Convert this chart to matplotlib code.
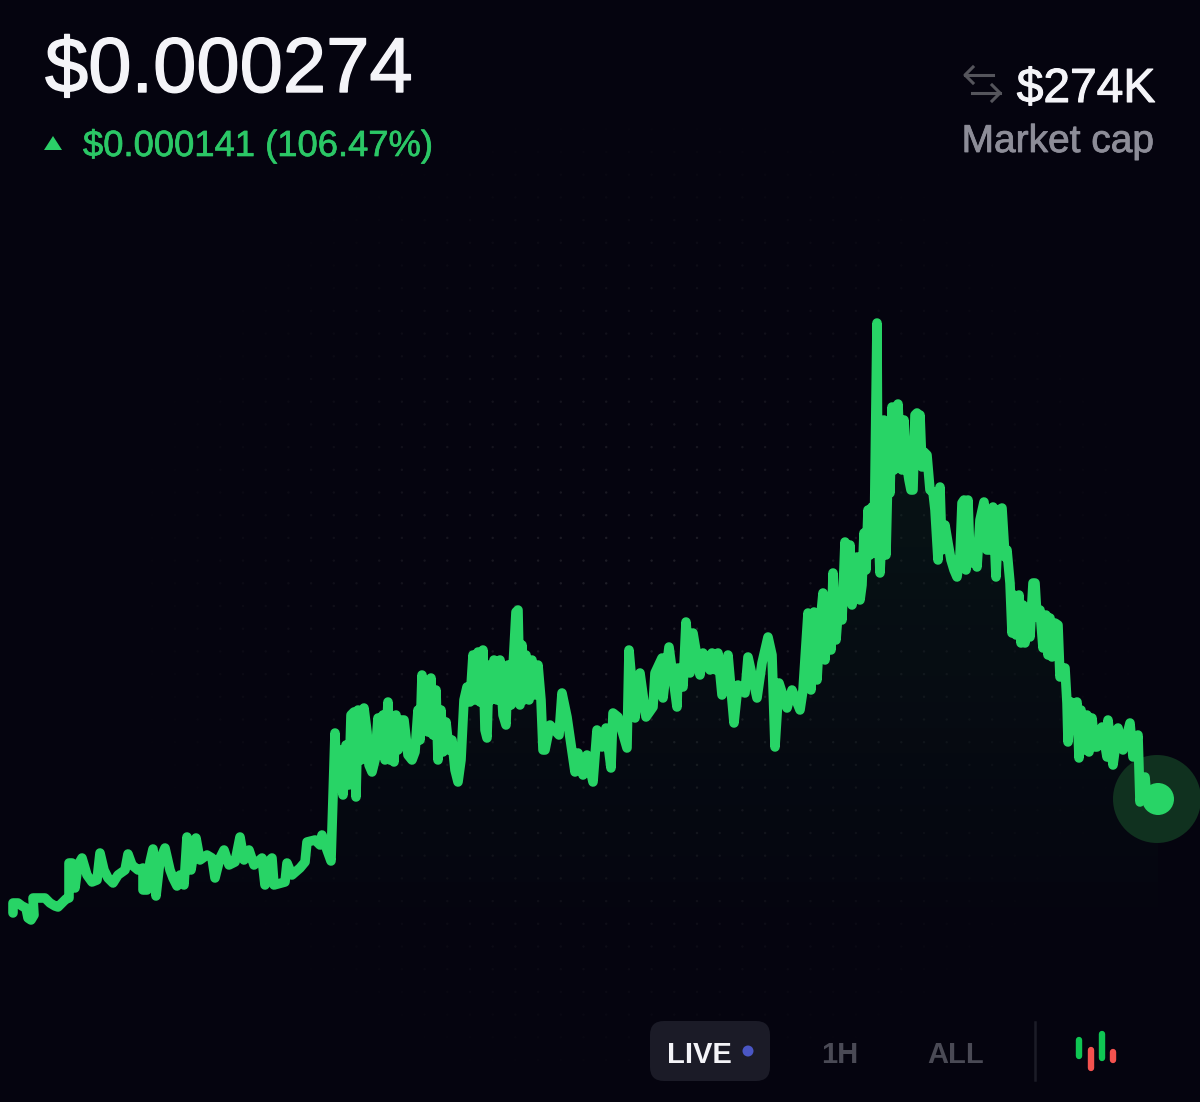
import numpy as np
import matplotlib.pyplot as plt
import matplotlib.patheffects as pe
from matplotlib.patches import Circle, FancyBboxPatch, Polygon

# serie (temps en unites arbitraires, niveau du prix au dessus de la base)
times = [
    13, 13, 18, 22, 26, 28, 31, 34, 33, 38,
    45, 50, 55, 58, 62, 66, 69, 69, 72, 75,
    78, 82, 87, 92, 97, 100, 104, 108, 113, 118,
    125, 128, 132, 138, 143, 143, 147, 150, 153, 156,
    160, 165, 170, 173, 177, 180, 184, 187, 191, 196,
    200, 207, 212, 215, 220, 224, 229, 235, 240, 244,
    249, 254, 262, 265, 270, 272, 274, 285, 287, 292,
    300, 305, 307, 315, 320, 322, 327, 331,
    335, 337, 340, 343, 346, 349, 351, 354, 356, 358,
    361, 364, 367, 369, 372, 375, 378, 380, 383, 385,
    388, 390, 392, 394, 396, 398,
    400, 404, 408, 412, 415, 418, 420, 422, 424, 426,
    428, 431, 433, 436, 438, 441, 443, 446, 449, 452,
    455, 458, 461, 464, 467, 470,
    473, 475, 478, 480, 483, 485, 487, 489, 491, 494,
    497, 500, 503, 506, 508, 511, 514, 516, 518, 520,
    522, 524, 526, 529, 532, 535, 538, 541, 543, 545,
    550, 559, 562, 567, 575, 578, 583, 587,
    593, 597, 602, 606, 611, 613, 618, 627, 629, 635,
    640, 646, 653, 655, 662, 663, 669, 677, 678, 683,
    686, 690, 693, 700, 703, 710, 712, 716, 718, 722,
    728, 734, 738, 745, 748, 757, 762, 768, 772, 775,
    779, 787, 792, 800, 803,
    808, 811, 814, 817, 820, 823, 825, 828, 831, 833,
    836, 839, 842, 845, 847, 850, 852, 854, 857, 860,
    862, 864, 866, 868, 870, 872, 874, 877, 878, 880,
    882, 884, 886, 888, 890, 892, 894, 896, 898, 900,
    902, 904, 906, 909, 911, 913, 915, 917, 919, 920,
    922, 924, 927, 930, 933, 935, 938, 940, 942, 945,
    948, 951, 954, 957, 960, 962, 964, 966, 968, 970,
    972, 975, 977, 980, 984, 987, 990, 993, 996, 999,
    1002, 1005, 1007,
    1010, 1012, 1014, 1016, 1019, 1021, 1023, 1025, 1027, 1030,
    1033, 1035, 1037, 1040, 1043, 1046, 1048, 1050, 1052, 1055,
    1058, 1060, 1063, 1065, 1067, 1068, 1071, 1074, 1077, 1079,
    1081, 1084, 1087, 1089, 1092, 1095, 1097, 1102, 1107, 1108,
    1113, 1118, 1123, 1130, 1133, 1138, 1140, 1145, 1147, 1158,
]
levels = [
    87, 97, 97, 94, 92, 82, 80, 85, 102, 102,
    102, 97, 94, 93, 97, 101, 102, 137, 137, 112,
    135, 142, 125, 118, 120, 147, 130, 122, 117, 125,
    130, 146, 135, 130, 132, 110, 110, 138, 151, 104,
    140, 152, 130, 122, 114, 125, 115, 163, 130, 162,
    140, 145, 142, 122, 142, 150, 135, 138, 163, 140,
    150, 135, 142, 115, 140, 142, 115, 118, 137, 125,
    132, 138, 158, 160, 155, 165, 150, 139,
    267, 212, 250, 205, 255, 215, 285, 288, 203, 290,
    240, 292, 268, 235, 228, 240, 282, 245, 285, 240,
    298, 240, 280, 238, 285, 250,
    280, 280, 245, 240, 248, 290, 260, 325, 272, 300,
    268, 322, 265, 310, 240, 290, 248, 278, 250, 260,
    230, 218, 240, 300, 313, 298,
    345, 300, 348, 298, 350, 270, 262, 335, 300, 340,
    300, 340, 285, 275, 335, 295, 350, 388, 390, 295,
    355, 300, 345, 300, 340, 305, 335, 300, 250, 250,
    275, 265, 307, 283, 228, 247, 225, 245,
    218, 270, 253, 272, 232, 287, 283, 252, 350, 282,
    327, 283, 293, 327, 342, 302, 353, 293, 332, 313,
    378, 327, 367, 325, 347, 330, 347, 330, 347, 305,
    345, 277, 315, 307, 343, 302, 337, 363, 345, 253,
    317, 292, 310, 290, 310,
    387, 310, 388, 320, 375, 407, 340, 395, 350, 427,
    360, 400, 380, 458, 400, 455, 395, 410, 443, 400,
    415, 467, 430, 490, 445, 493, 447, 677, 480, 427,
    470, 580, 445, 530, 507, 593, 530, 550, 596, 550,
    530, 580, 540, 520, 510, 510, 585, 587, 535, 585,
    533, 548, 545, 510, 508, 490, 440, 513, 450, 475,
    457, 440, 430, 423, 445, 497, 500, 430, 500, 440,
    437, 450, 433, 480, 498, 450, 450, 493, 423, 490,
    492, 443, 450,
    417, 367, 405, 365, 405, 357, 395, 357, 392, 363,
    417, 417, 383, 390, 352, 385, 345, 382, 343, 377,
    375, 323, 332, 332, 297, 258, 298, 290, 298, 242,
    290, 250, 285, 248, 282, 253, 253, 273, 243, 280,
    235, 272, 250, 277, 243, 265, 198, 223, 200, 201,
]

price = "$0.000274"
change = "$0.000141 (106.47%)"
market_cap = "$274K"
market_cap_label = "Market cap"
ranges = ["1H", "ALL"]

BG = "#05040f"
GREEN = "#28d466"

fig = plt.figure(figsize=(12, 11.02), dpi=100, facecolor=BG)
plt.rcParams['font.family'] = ['Liberation Sans', 'DejaVu Sans']

# axe du graphique
ax = fig.add_axes([0, 0, 1, 1], facecolor=BG)
ax.axis("off")

# grille de points tres discrete
gx, gy = np.meshgrid(np.arange(16, 1200, 22.7), np.arange(-60, 900, 22.7))
fade = np.clip(1.05 - np.hypot((gx - 640) / 500, (gy - 400) / 480), 0, 1)
grid_col = np.zeros((gx.size, 4))
grid_col[:, :3] = 0.55
grid_col[:, 3] = 0.2 * fade.ravel()
ax.scatter(gx.ravel(), gy.ravel(), s=3, c=grid_col, linewidths=0, zorder=1)

# remplissage sous la courbe
grad = np.zeros((256, 2, 4))
grad[:, :, :3] = (0.15, 0.84, 0.40)
grad[:, :, 3] = np.linspace(0.085, 0, 256)[:, None]
im = ax.imshow(grad, extent=[0, 1200, 40, 600], origin="upper", aspect="auto", zorder=2)
poly = Polygon(list(zip(times, levels)) + [(1158, 40), (13, 40)], closed=True, transform=ax.transData)
im.set_clip_path(poly)

# halo et point final
ax.add_patch(Circle((times[-1] - 1, levels[-1]), 44, fc="#10311f", ec="none", zorder=3))
ax.plot(times, levels, color=GREEN, lw=6.9, solid_joinstyle="round", solid_capstyle="round", zorder=4)
ax.add_patch(Circle((times[-1], levels[-1]), 16, fc=GREEN, ec="none", zorder=5))
ax.set_xlim(0, 1200)
ax.set_ylim(-102, 1000)

# textes et boutons, en pixels de l'image
ui = fig.add_axes([0, 0, 1, 1], facecolor="none")
ui.axis("off")
ui.set_xlim(0, 1200)
ui.set_ylim(1102, 0)


def heavy(col, w):
    # epaissit un peu la police, plus proche du graisse d'origine
    return [pe.withStroke(linewidth=w, foreground=col)]


ui.text(45, 92, price, color="#f4f4f8", fontsize=56, ha="left", va="baseline", path_effects=heavy("#f4f4f8", 1.0))
ui.add_patch(Polygon([(44, 150), (62, 150), (53, 136)], closed=True, fc="#2bcf68", ec="none"))
ui.text(83, 156, change, color="#2bc766", fontsize=26.2, ha="left", va="baseline", path_effects=heavy("#2bc766", 0.5))

ui.text(1155, 102, market_cap, color="#f4f4f8", fontsize=34.5, ha="right", va="baseline", path_effects=heavy("#f4f4f8", 0.8))
ui.text(1154, 152, market_cap_label, color="#8d8d98", fontsize=28, ha="right", va="baseline", path_effects=heavy("#8d8d98", 0.6))

# fleches d'echange
arrow_col = "#55555c"
ui.plot([993, 965], [75, 75], color=arrow_col, lw=2.2)
ui.plot([973, 965, 973], [67, 75, 83], color=arrow_col, lw=2.2)
ui.plot([972, 1000], [93, 93], color=arrow_col, lw=2.2)
ui.plot([992, 1000, 992], [85, 93, 101], color=arrow_col, lw=2.2)

# selecteur de periode
ui.add_patch(FancyBboxPatch((664, 1035), 92, 32, boxstyle="round,pad=14,rounding_size=14", fc="#1b1b27", ec="none", zorder=1))
ui.text(667, 1063, "LIVE", color="#f4f4f8", fontsize=21, fontweight="bold", ha="left", va="baseline", zorder=2)
ui.add_patch(Circle((748, 1051), 5.5, fc="#4a56c4", ec="none", zorder=2))
ui.text(840, 1063, ranges[0], color="#4a4a55", fontsize=21, fontweight="bold", ha="center", va="baseline")
ui.text(956, 1063, ranges[1], color="#4a4a55", fontsize=21, fontweight="bold", ha="center", va="baseline")
ui.plot([1035, 1035], [1022, 1080], color="#1c1c27", lw=1.8)

# icone chandeliers
ui.plot([1079, 1079], [1040, 1056], color="#0fc653", lw=4.6, solid_capstyle="round")
ui.plot([1091, 1091], [1050, 1068], color="#f4524f", lw=4.6, solid_capstyle="round")
ui.plot([1102, 1102], [1034, 1058], color="#0fc653", lw=4.6, solid_capstyle="round")
ui.plot([1113, 1113], [1052, 1060], color="#f4524f", lw=4.6, solid_capstyle="round")

fig.savefig("out.png", dpi=100, facecolor=BG)
